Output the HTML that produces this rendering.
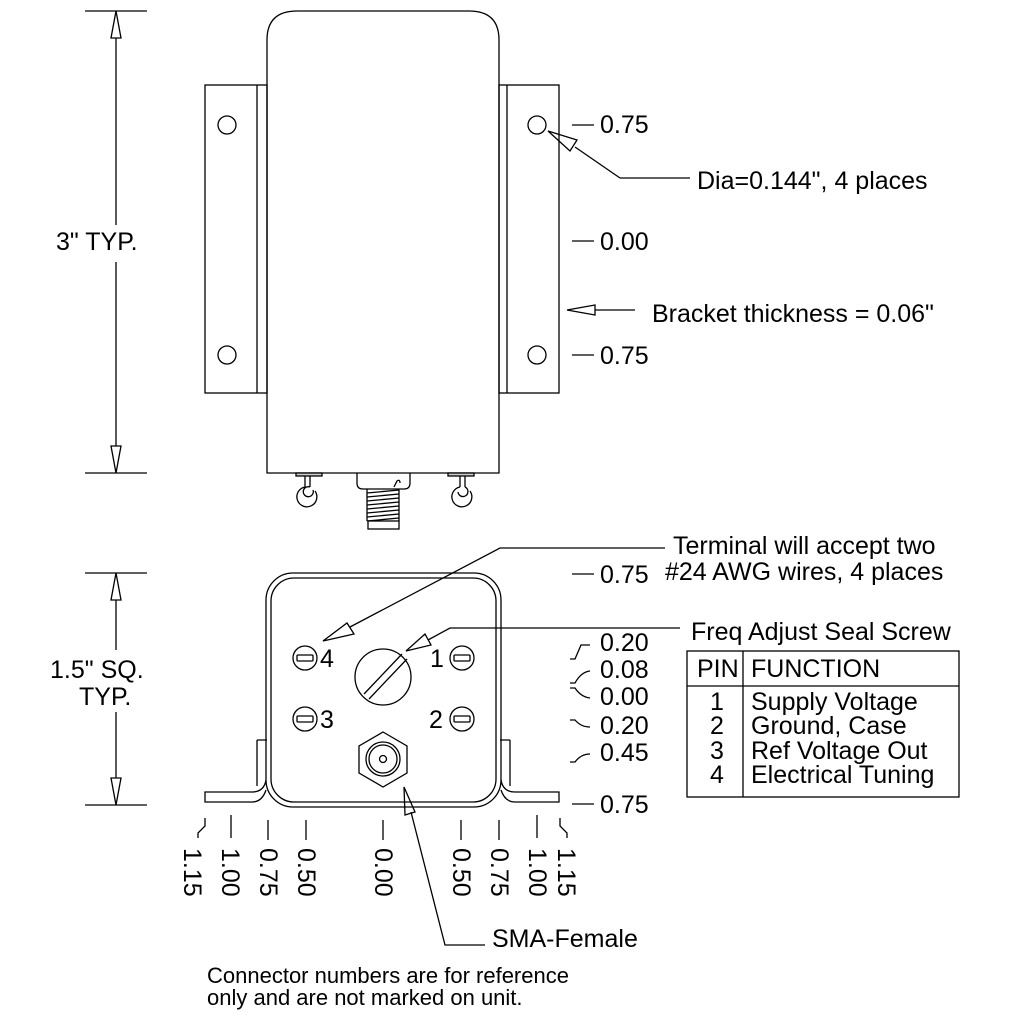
<!DOCTYPE html>
<html><head><meta charset="utf-8"><style>
html,body{margin:0;padding:0;background:#fff}
svg{display:block}
text{font-family:"Liberation Sans",Arial,sans-serif;fill:#000}
</style></head><body>
<svg width="1024" height="1024" viewBox="0 0 1024 1024" xmlns="http://www.w3.org/2000/svg">
<g fill="none" stroke="#000" stroke-width="1.3">
<!-- TOP VIEW -->
<path d="M267,473 V40 Q267,11 297,11 H469 Q499,11 499,40 V473 Z"/>
<rect x="205" y="85" width="62" height="308"/>
<line x1="257" y1="85" x2="257" y2="393"/>
<rect x="499" y="85" width="60" height="308"/>
<line x1="507" y1="85" x2="507" y2="393"/>
<circle cx="227" cy="125" r="9"/><circle cx="227" cy="355" r="9"/>
<circle cx="537" cy="125" r="9"/><circle cx="537" cy="355" r="9"/>
<!-- terminals top -->
<rect x="296" y="473" width="26" height="3" fill="#ccc"/>
<rect x="448" y="473" width="26" height="3" fill="#ccc"/>
<path d="M305,476 V487 M310,476 V487"/>
<path d="M305,487 A10,10 0 1 0 315,491"/>
<path d="M310,487 A5,5 0 1 0 313,490"/>
<path d="M460,476 V487 M465,476 V487"/>
<path d="M460,487 A10,10 0 1 0 470,491"/>
<path d="M465,487 A5,5 0 1 1 458,492"/>
<!-- connector -->
<path d="M357,473 V483 Q357,489 363,489 H404 Q410,489 410,483 V473"/>
<path d="M367,489 V521 M399,489 V521"/>
<path d="M367,493 L399,490 M367,497 L399,494 M367,501 L399,498 M367,505 L399,502 M367,509 L399,506 M367,513 L399,510 M367,517 L399,514 M367,521 L399,518"/>
<path d="M394,487 L397,481 Q400,479 400,483"/>
<rect x="368" y="521" width="31" height="8"/>
<!-- 3" dim -->
<line x1="85" y1="11" x2="147" y2="11"/><line x1="85" y1="473" x2="147" y2="473"/>
<line x1="116" y1="38" x2="116" y2="225"/><line x1="116" y1="262" x2="116" y2="446"/>
<polygon points="116,11 111,38 121,38"/><polygon points="116,473 111,446 121,446"/>
<!-- right scale top -->
<line x1="572" y1="125" x2="594" y2="125"/>
<line x1="572" y1="241" x2="594" y2="241"/>
<line x1="572" y1="355" x2="594" y2="355"/>
<!-- Dia leader -->
<polyline points="620,178 690,178"/><line x1="620" y1="178" x2="575" y2="147"/>
<polygon points="548,131 577,140 570,151"/>
<!-- bracket thickness -->
<line x1="595" y1="310" x2="635" y2="310"/>
<polygon points="567,310 595,305 595,315"/>

<!-- FRONT VIEW -->
<rect x="266" y="573" width="235" height="234" rx="27"/>
<rect x="271" y="578" width="225" height="224" rx="23"/>
<path d="M266,780 Q264,792 252,792 H205 V802 H252 Q262,802 266,790"/>
<path d="M257,740 H267 M257,740 V786"/>
<path d="M501,780 Q503,792 515,792 H559 V802 H515 Q505,802 501,790"/>
<path d="M510,740 H500 M510,740 V786"/>
<!-- screws -->
<g>
<circle cx="305" cy="658" r="12"/><rect x="297" y="655" width="16" height="6" rx="1"/>
<circle cx="305" cy="719" r="12"/><rect x="297" y="716" width="16" height="6" rx="1"/>
<circle cx="462" cy="658" r="12"/><rect x="454" y="655" width="16" height="6" rx="1"/>
<circle cx="462" cy="719" r="12"/><rect x="454" y="716" width="16" height="6" rx="1"/>
</g>
<circle cx="383" cy="677" r="28"/>
<line x1="364" y1="694" x2="402" y2="654"/><line x1="369" y1="699" x2="407" y2="659"/>
<polygon points="383,732 407,746 407,773 383,787 359,773 359,746"/>
<circle cx="383" cy="759" r="17"/><circle cx="383" cy="759" r="14"/><circle cx="383" cy="759" r="3.5"/>
<!-- 1.5 dim -->
<line x1="85" y1="573" x2="147" y2="573"/><line x1="85" y1="805" x2="147" y2="805"/>
<line x1="116" y1="600" x2="116" y2="650"/><line x1="116" y1="712" x2="116" y2="778"/>
<polygon points="116,573 111,600 121,600"/><polygon points="116,805 111,778 121,778"/>
<!-- right scale front -->
<line x1="572" y1="574" x2="594" y2="574"/>
<path d="M570,659 H575 L581,645 H590"/>
<path d="M570,683 H575 Q581,672 590,671"/>
<path d="M570,688 H575 Q581,697 590,698"/>
<path d="M570,720 H575 Q581,727 590,727"/>
<path d="M570,762 H575 Q581,754 590,754"/>
<line x1="572" y1="804" x2="594" y2="804"/>
<!-- bottom ticks -->
<path d="M205,818 V826 L198,833 V838"/>
<line x1="231" y1="815" x2="231" y2="838"/>
<line x1="268" y1="820" x2="268" y2="840"/>
<line x1="306" y1="820" x2="306" y2="840"/>
<line x1="383" y1="820" x2="383" y2="840"/>
<line x1="461" y1="820" x2="461" y2="840"/>
<line x1="499" y1="820" x2="499" y2="840"/>
<line x1="537" y1="815" x2="537" y2="838"/>
<path d="M560,818 V826 L567,833 V838"/>
<!-- terminal leader -->
<polyline points="665,548 500,548 350,627"/>
<polygon points="323,641 347,623 354,634"/>
<!-- freq leader -->
<polyline points="680,628 450,628 428,640"/>
<polygon points="406,651 425,634 431,645"/>
<!-- SMA leader -->
<polyline points="485,945 445,945 411,812"/>
<polygon points="404,787 405,815 415,812"/>
<!-- table -->
<rect x="687" y="651" width="272" height="146"/>
<line x1="687" y1="686" x2="959" y2="686"/>
<line x1="743" y1="651" x2="743" y2="797"/>
</g>
<g font-size="25">
<text x="600" y="133">0.75</text>
<text x="600" y="250">0.00</text>
<text x="600" y="364">0.75</text>
<text x="697" y="189">Dia=0.144", 4 places</text>
<text x="652" y="322">Bracket thickness = 0.06"</text>
<text x="56" y="250">3" TYP.</text>
<text x="50" y="678">1.5" SQ.</text>
<text x="79" y="705">TYP.</text>
<text x="673" y="554">Terminal will accept two</text>
<text x="665" y="580">#24 AWG wires, 4 places</text>
<text x="600" y="583">0.75</text>
<text x="691" y="640">Freq Adjust Seal Screw</text>
<text x="600" y="651">0.20</text>
<text x="600" y="678">0.08</text>
<text x="600" y="705">0.00</text>
<text x="600" y="734">0.20</text>
<text x="600" y="761">0.45</text>
<text x="600" y="813">0.75</text>
<text x="697" y="677">PIN</text>
<text x="751" y="677">FUNCTION</text>
<text x="710" y="710">1</text><text x="751" y="710">Supply Voltage</text>
<text x="710" y="734">2</text><text x="751" y="734">Ground, Case</text>
<text x="710" y="759">3</text><text x="751" y="759">Ref Voltage Out</text>
<text x="710" y="783">4</text><text x="751" y="783">Electrical Tuning</text>
<text x="320" y="667">4</text>
<text x="430" y="667">1</text>
<text x="320" y="728">3</text>
<text x="429" y="728">2</text>
<text x="492" y="947">SMA-Female</text>
<text transform="translate(184,848) rotate(90)">1.15</text>
<text transform="translate(222,848) rotate(90)">1.00</text>
<text transform="translate(260,848) rotate(90)">0.75</text>
<text transform="translate(298,848) rotate(90)">0.50</text>
<text transform="translate(375,848) rotate(90)">0.00</text>
<text transform="translate(453,848) rotate(90)">0.50</text>
<text transform="translate(491,848) rotate(90)">0.75</text>
<text transform="translate(529,848) rotate(90)">1.00</text>
<text transform="translate(558,848) rotate(90)">1.15</text>
</g>
<g font-size="22">
<text x="207" y="983">Connector numbers are for reference</text>
<text x="207" y="1005">only and are not marked on unit.</text>
</g>
</svg>
</body></html>
